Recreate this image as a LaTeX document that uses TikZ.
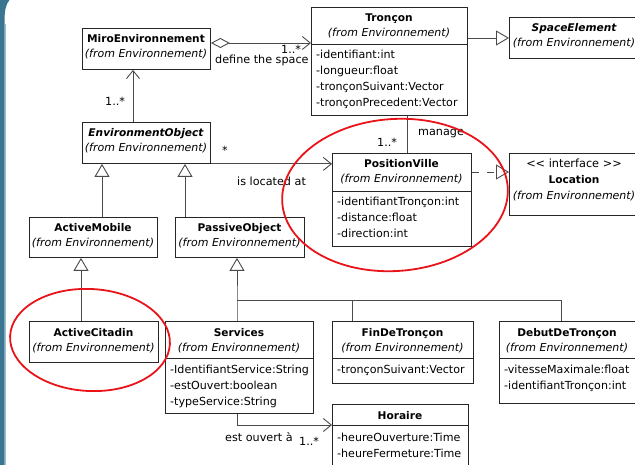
\documentclass[tikz,border=0pt]{standalone}
\usepackage{fontspec}
\setmainfont{DejaVu Sans}
\usetikzlibrary{arrows.meta,calc}
\definecolor{slide}{HTML}{3A7691}
\definecolor{slidehi}{HTML}{9DBFCF}
\definecolor{conn}{HTML}{4A4A4A}
\definecolor{ring}{HTML}{E8141A}

\tikzset{
  cls/.style={draw=black!85, line width=0.9pt, fill=white, inner sep=0pt, anchor=north west},
  ttl/.style={anchor=base, inner sep=0pt, font=\fontsize{10.6}{12}\selectfont\bfseries},
  attl/.style={anchor=base, inner sep=0pt, font=\fontsize{10.6}{12}\selectfont\bfseries\itshape},
  pkg/.style={anchor=base, inner sep=0pt, font=\fontsize{11}{12}\selectfont\itshape},
  stereo/.style={anchor=base, inner sep=0pt, font=\fontsize{11.3}{12}\selectfont},
  attr/.style={anchor=base west, inner sep=0pt, font=\fontsize{11.1}{12}\selectfont},
  lbl/.style={anchor=base west, inner sep=0pt, font=\fontsize{11.2}{12}\selectfont},
  link/.style={draw=conn, line width=0.9pt},
  nav/.style={link, -{Straight Barb[length=8pt,width=13pt]}},
  agg/.style={link, {Diamond[open,length=19pt,width=10pt]}-{Straight Barb[length=8pt,width=13pt]}},
  inh/.style={link, -{Triangle[open,length=13pt,width=15pt]}},
  real/.style={inh, dash pattern=on 7pt off 8pt},
  ring/.style={draw=ring, line width=1.8pt},
  sep/.style={draw=black!85, line width=0.9pt},
}

\begin{document}
\begin{tikzpicture}[x=1pt,y=-1pt]
  \useasboundingbox (0,0) rectangle (635,465);

  % slide edge on the left
  \fill[slide] (0,0) -- (9.5,0) .. controls (6,4) and (4.5,10) .. (4.5,22) -- (4.5,465) -- (0,465) -- cycle;
  \draw[slidehi, line width=0.8pt] (4.9,24) -- (4.9,465);

  % ---------- classes ----------
  \node[cls, minimum width=128pt, minimum height=41pt] (miro) at (82,28) {};
  \node[ttl] (miro-t) at (146,43) {MiroEnvironnement};
  \node[pkg] (miro-p) at (146,58) {(from Environnement)};

  \node[cls, minimum width=156pt, minimum height=108pt] (tron) at (311,7) {};
  \node[ttl] (tron-t) at (389,22) {Tronçon};
  \node[pkg] (tron-p) at (389,37) {(from Environnement)};
  \draw[sep] (tron.west |- 0,44) -- (tron.east |- 0,44);
  \node[attr] (tron-a1) at (316,59) {-identifiant:int};
  \node[attr] (tron-a2) at (316,75) {-longueur:float};
  \node[attr] (tron-a3) at (316,91) {-tronçonSuivant:Vector};
  \node[attr] (tron-a4) at (316,107) {-tronçonPrecedent:Vector};

  \node[cls, minimum width=132pt, minimum height=41pt] (space) at (509,17) {};
  \node[attl] (space-t) at (574,32) {SpaceElement};
  \node[pkg] (space-p) at (574,47) {(from Environnement)};

  \node[cls, minimum width=128pt, minimum height=41pt] (envobj) at (82,122) {};
  \node[attl] (envobj-t) at (146,137) {EnvironmentObject};
  \node[pkg] (envobj-p) at (146,152) {(from Environnement)};

  \node[cls, minimum width=139pt, minimum height=93pt] (posv) at (332,153) {};
  \node[ttl] (posv-t) at (401.5,168) {PositionVille};
  \node[pkg] (posv-p) at (401.5,183) {(from Environnement)};
  \draw[sep] (posv.west |- 0,191) -- (posv.east |- 0,191);
  \node[attr] (posv-a1) at (337,206) {-identifiantTronçon:int};
  \node[attr] (posv-a2) at (337,222) {-distance:float};
  \node[attr] (posv-a3) at (337,238) {-direction:int};

  \node[cls, minimum width=132pt, minimum height=62pt] (loc) at (509,153) {};
  \node[stereo] (loc-s) at (574,168) {<{}< interface >{}>};
  \node[ttl] (loc-t) at (574,184) {Location};
  \node[pkg] (loc-p) at (574,200) {(from Environnement)};

  \node[cls, minimum width=128pt, minimum height=40pt] (amob) at (29,217) {};
  \node[ttl] (amob-t) at (93,232) {ActiveMobile};
  \node[pkg] (amob-p) at (93,247) {(from Environnement)};

  \node[cls, minimum width=129pt, minimum height=40pt] (pobj) at (175,217) {};
  \node[ttl] (pobj-t) at (239.5,232) {PassiveObject};
  \node[pkg] (pobj-p) at (239.5,247) {(from Environnement)};

  \node[cls, minimum width=129pt, minimum height=41pt] (acit) at (29,321) {};
  \node[ttl] (acit-t) at (93.5,336) {ActiveCitadin};
  \node[pkg] (acit-p) at (93.5,351) {(from Environnement)};

  \node[cls, minimum width=148pt, minimum height=92pt] (serv) at (165,321) {};
  \node[ttl] (serv-t) at (239,336) {Services};
  \node[pkg] (serv-p) at (239,351) {(from Environnement)};
  \draw[sep] (serv.west |- 0,358) -- (serv.east |- 0,358);
  \node[attr] (serv-a1) at (170,373) {-IdentifiantService:String};
  \node[attr] (serv-a2) at (170,389) {-estOuvert:boolean};
  \node[attr] (serv-a3) at (170,405) {-typeService:String};

  \node[cls, minimum width=141pt, minimum height=62pt] (fin) at (332,321) {};
  \node[ttl] (fin-t) at (402.5,336) {FinDeTronçon};
  \node[pkg] (fin-p) at (402.5,351) {(from Environnement)};
  \draw[sep] (fin.west |- 0,358) -- (fin.east |- 0,358);
  \node[attr] (fin-a1) at (337,373) {-tronçonSuivant:Vector};

  \node[cls, minimum width=135.5pt, minimum height=82pt] (debut) at (499,321) {};
  \node[ttl] (debut-t) at (567,336) {DebutDeTronçon};
  \node[pkg] (debut-p) at (567,351) {(from Environnement)};
  \draw[sep] (debut.west |- 0,358) -- (debut.east |- 0,358);
  \node[attr] (debut-a1) at (504,373) {-vitesseMaximale:float};
  \node[attr] (debut-a2) at (504,389) {-identifiantTronçon:int};

  \node[cls, minimum width=136pt, minimum height=72pt] (hor) at (332,404) {};
  \node[ttl] (hor-t) at (400,419) {Horaire};
  \draw[sep] (hor.west |- 0,425) -- (hor.east |- 0,425);
  \node[attr] (hor-a1) at (337,441) {-heureOuverture:Time};
  \node[attr] (hor-a2) at (337,457) {-heureFermeture:Time};

  % ---------- associations ----------
  \draw[agg] (miro.east |- 0,43) -- (tron.west |- 0,43);
  \node[lbl] (l-define) at (215,64) {define the space};
  \node[lbl] (l-m1) at (281,53.5) {1..*};

  \draw[nav] (envobj.north -| 133,0) -- (miro.south -| 133,0);
  \node[lbl] (l-m2) at (105,106) {1..*};

  \draw[nav] (envobj.south east) -- (posv.west |- envobj.south east);
  \node[lbl] (l-star) at (222,155) {*};
  \node[lbl] (l-located) at (237,186) {is located at};

  \draw[link] (tron.south -| 407,0) -- (posv.north -| 407,0);
  \node[lbl] (l-manage) at (418,136) {manage};
  \node[lbl] (l-m3) at (377,147) {1..*};

  \coordinate (ouv) at (237,425);
  \draw[nav] (serv.south -| ouv) -- (ouv) -- (hor.west |- ouv);
  \node[lbl] (l-ouvert) at (225,441) {est ouvert à};
  \node[lbl] (l-m4) at (299,445) {1..*};

  % ---------- generalisation / realisation ----------
  \draw[inh] (tron.east |- 0,38) -- (space.west |- 0,38);
  \draw[real] (posv.east |- 0,172) -- (loc.west |- 0,172);
  \draw[inh] (amob.north -| 102,0) -- (envobj.south -| 102,0);
  \draw[inh] (pobj.north -| 185,0) -- (envobj.south -| 185,0);
  \draw[inh] (acit.north -| 81,0) -- (amob.south -| 81,0);

  \coordinate (bus) at (237,300);
  \coordinate (busE) at (561,300);
  \coordinate (busM) at (352,300);
  \draw[inh] (serv.north -| bus) -- (bus) -- (pobj.south -| bus);
  \draw[link] (bus) -- (busE) -- (debut.north -| busE);
  \draw[link] (busM) -- (fin.north -| busM);

  % ---------- highlight rings ----------
  \draw[ring, rotate around={4:(395,195)}] (395,195) ellipse [x radius=113, y radius=76];
  \draw[ring, rotate around={-3:(90,340)}] (90,340) ellipse [x radius=80, y radius=51];
\end{tikzpicture}
\end{document}
